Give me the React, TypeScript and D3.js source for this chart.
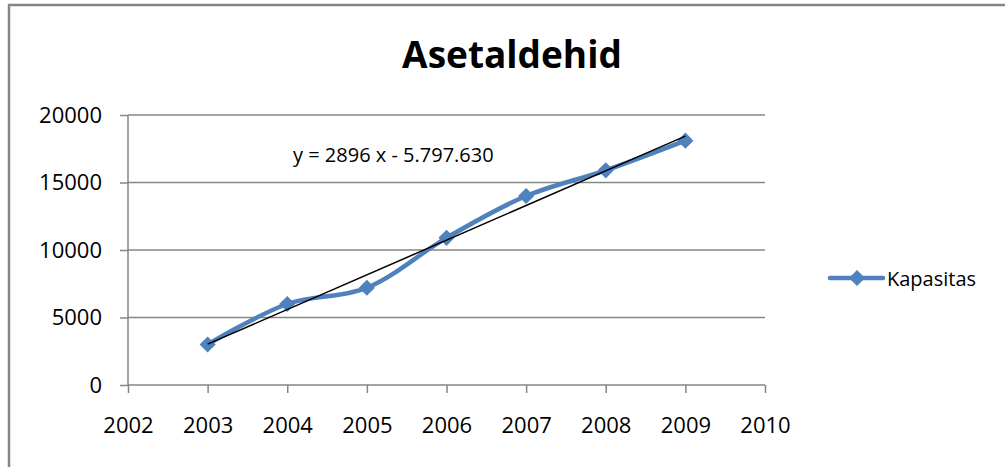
import { useRef, useEffect } from 'react'
import * as d3 from 'd3'

const years = [2003, 2004, 2005, 2006, 2007, 2008, 2009]
const kapasitas = [3000, 6000, 7200, 10900, 14000, 15900, 18100]
const yTicks = [0, 5000, 10000, 15000, 20000]
const xTicks = [2002, 2003, 2004, 2005, 2006, 2007, 2008, 2009, 2010]
const title = "Asetaldehid"
const seriesName = "Kapasitas"
const equationLabel = "y = 2896 x - 5.797.630"

const width = 1005
const height = 467
const font = "'Open Sans', Lato, sans-serif"
const gray = "#868686"
const blue = "#4F81BD"

export default function App() {
  const svgRef = useRef<SVGSVGElement>(null)

  useEffect(() => {
    if (!svgRef.current) return
    const svg = d3.select(svgRef.current)
    svg.selectAll("*").remove()

    const x = d3.scaleLinear().domain([2002, 2010]).range([128, 765])
    const y = d3.scaleLinear().domain([0, 20000]).range([385, 115])

    // chart frame (only top/left show in the crop)
    svg.append("rect")
      .attr("x", 9).attr("y", 5)
      .attr("width", width + 20).attr("height", height + 20)
      .attr("fill", "white")
      .attr("stroke", gray)
      .attr("stroke-width", 2.5)

    // gridlines
    svg.append("g")
      .selectAll("line")
      .data(yTicks.filter(d => d > 0))
      .enter()
      .append("line")
      .attr("x1", 128).attr("x2", 765)
      .attr("y1", d => y(d)).attr("y2", d => y(d))
      .attr("stroke", gray)
      .attr("stroke-width", 1.5)

    // y axis
    const yAxis = svg.append("g")
      .attr("transform", "translate(128,0)")
      .call(d3.axisLeft(y).tickValues(yTicks).tickSize(8).tickPadding(18).tickFormat(d3.format("d")))
    yAxis.selectAll("line, path").attr("stroke", gray).attr("stroke-width", 1.5)
    yAxis.select(".domain").attr("d", `M0,${y(20000)}V${y(0)}`)
    yAxis.selectAll("text")
      .style("font-family", font).style("font-size", "22px").attr("fill", "black")

    // x axis
    const xAxis = svg.append("g")
      .attr("transform", `translate(0,${y(0)})`)
      .call(d3.axisBottom(x).tickValues(xTicks).tickSize(8).tickPadding(24).tickFormat(d3.format("d")))
    xAxis.selectAll("line, path").attr("stroke", gray).attr("stroke-width", 1.5)
    xAxis.select(".domain").attr("d", `M${x(2002)},0H${x(2010)}`)
    xAxis.selectAll("text")
      .style("font-family", font).style("font-size", "22px").attr("fill", "black")

    // series line
    const pts: [number, number][] = years.map((yr, i) => [yr, kapasitas[i]])
    const line = d3.line<[number, number]>()
      .x(d => x(d[0]))
      .y(d => y(d[1]))
      .curve(d3.curveCatmullRom.alpha(0.5))

    svg.append("path")
      .datum(pts)
      .attr("d", line)
      .attr("fill", "none")
      .attr("stroke", blue)
      .attr("stroke-width", 4.5)
      .attr("stroke-linejoin", "round")

    const diamond = d3.symbol().type(d3.symbolSquare).size(130)
    svg.append("g")
      .selectAll("path")
      .data(pts)
      .enter()
      .append("path")
      .attr("d", diamond)
      .attr("transform", d => `translate(${x(d[0])},${y(d[1])}) rotate(45)`)
      .attr("fill", blue)

    // linear trendline (least squares)
    const mx = d3.mean(years) as number
    const my = d3.mean(kapasitas) as number
    const slope = d3.sum(years, (v, i) => (v - mx) * (kapasitas[i] - my)) /
      d3.sum(years, v => (v - mx) * (v - mx))
    const intercept = my - slope * mx
    const x0 = years[0], x1 = years[years.length - 1]
    svg.append("line")
      .attr("x1", x(x0)).attr("y1", y(slope * x0 + intercept))
      .attr("x2", x(x1)).attr("y2", y(slope * x1 + intercept))
      .attr("stroke", "black")
      .attr("stroke-width", 1.5)

    svg.append("text")
      .attr("x", 293).attr("y", 162)
      .style("font-family", font).style("font-size", "20px")
      .text(equationLabel)

    // title
    svg.append("text")
      .attr("x", 512).attr("y", 68)
      .attr("text-anchor", "middle")
      .style("font-family", font).style("font-size", "37px").style("font-weight", "bold")
      .text(title)

    // legend
    const lg = svg.append("g").attr("transform", "translate(830,278)")
    lg.append("line").attr("x1", 0).attr("x2", 53)
      .attr("stroke", blue).attr("stroke-width", 4.5).attr("stroke-linecap", "round")
    lg.append("path").attr("d", diamond).attr("transform", "translate(27,0) rotate(45)").attr("fill", blue)
    lg.append("text").attr("x", 57).attr("y", 8)
      .style("font-family", font).style("font-size", "20px")
      .text(seriesName)
  }, [])

  return (
    <svg
      ref={svgRef}
      width={width}
      height={height}
      style={{ position: 'absolute', left: 0, top: 0 }}
    />
  )
}
